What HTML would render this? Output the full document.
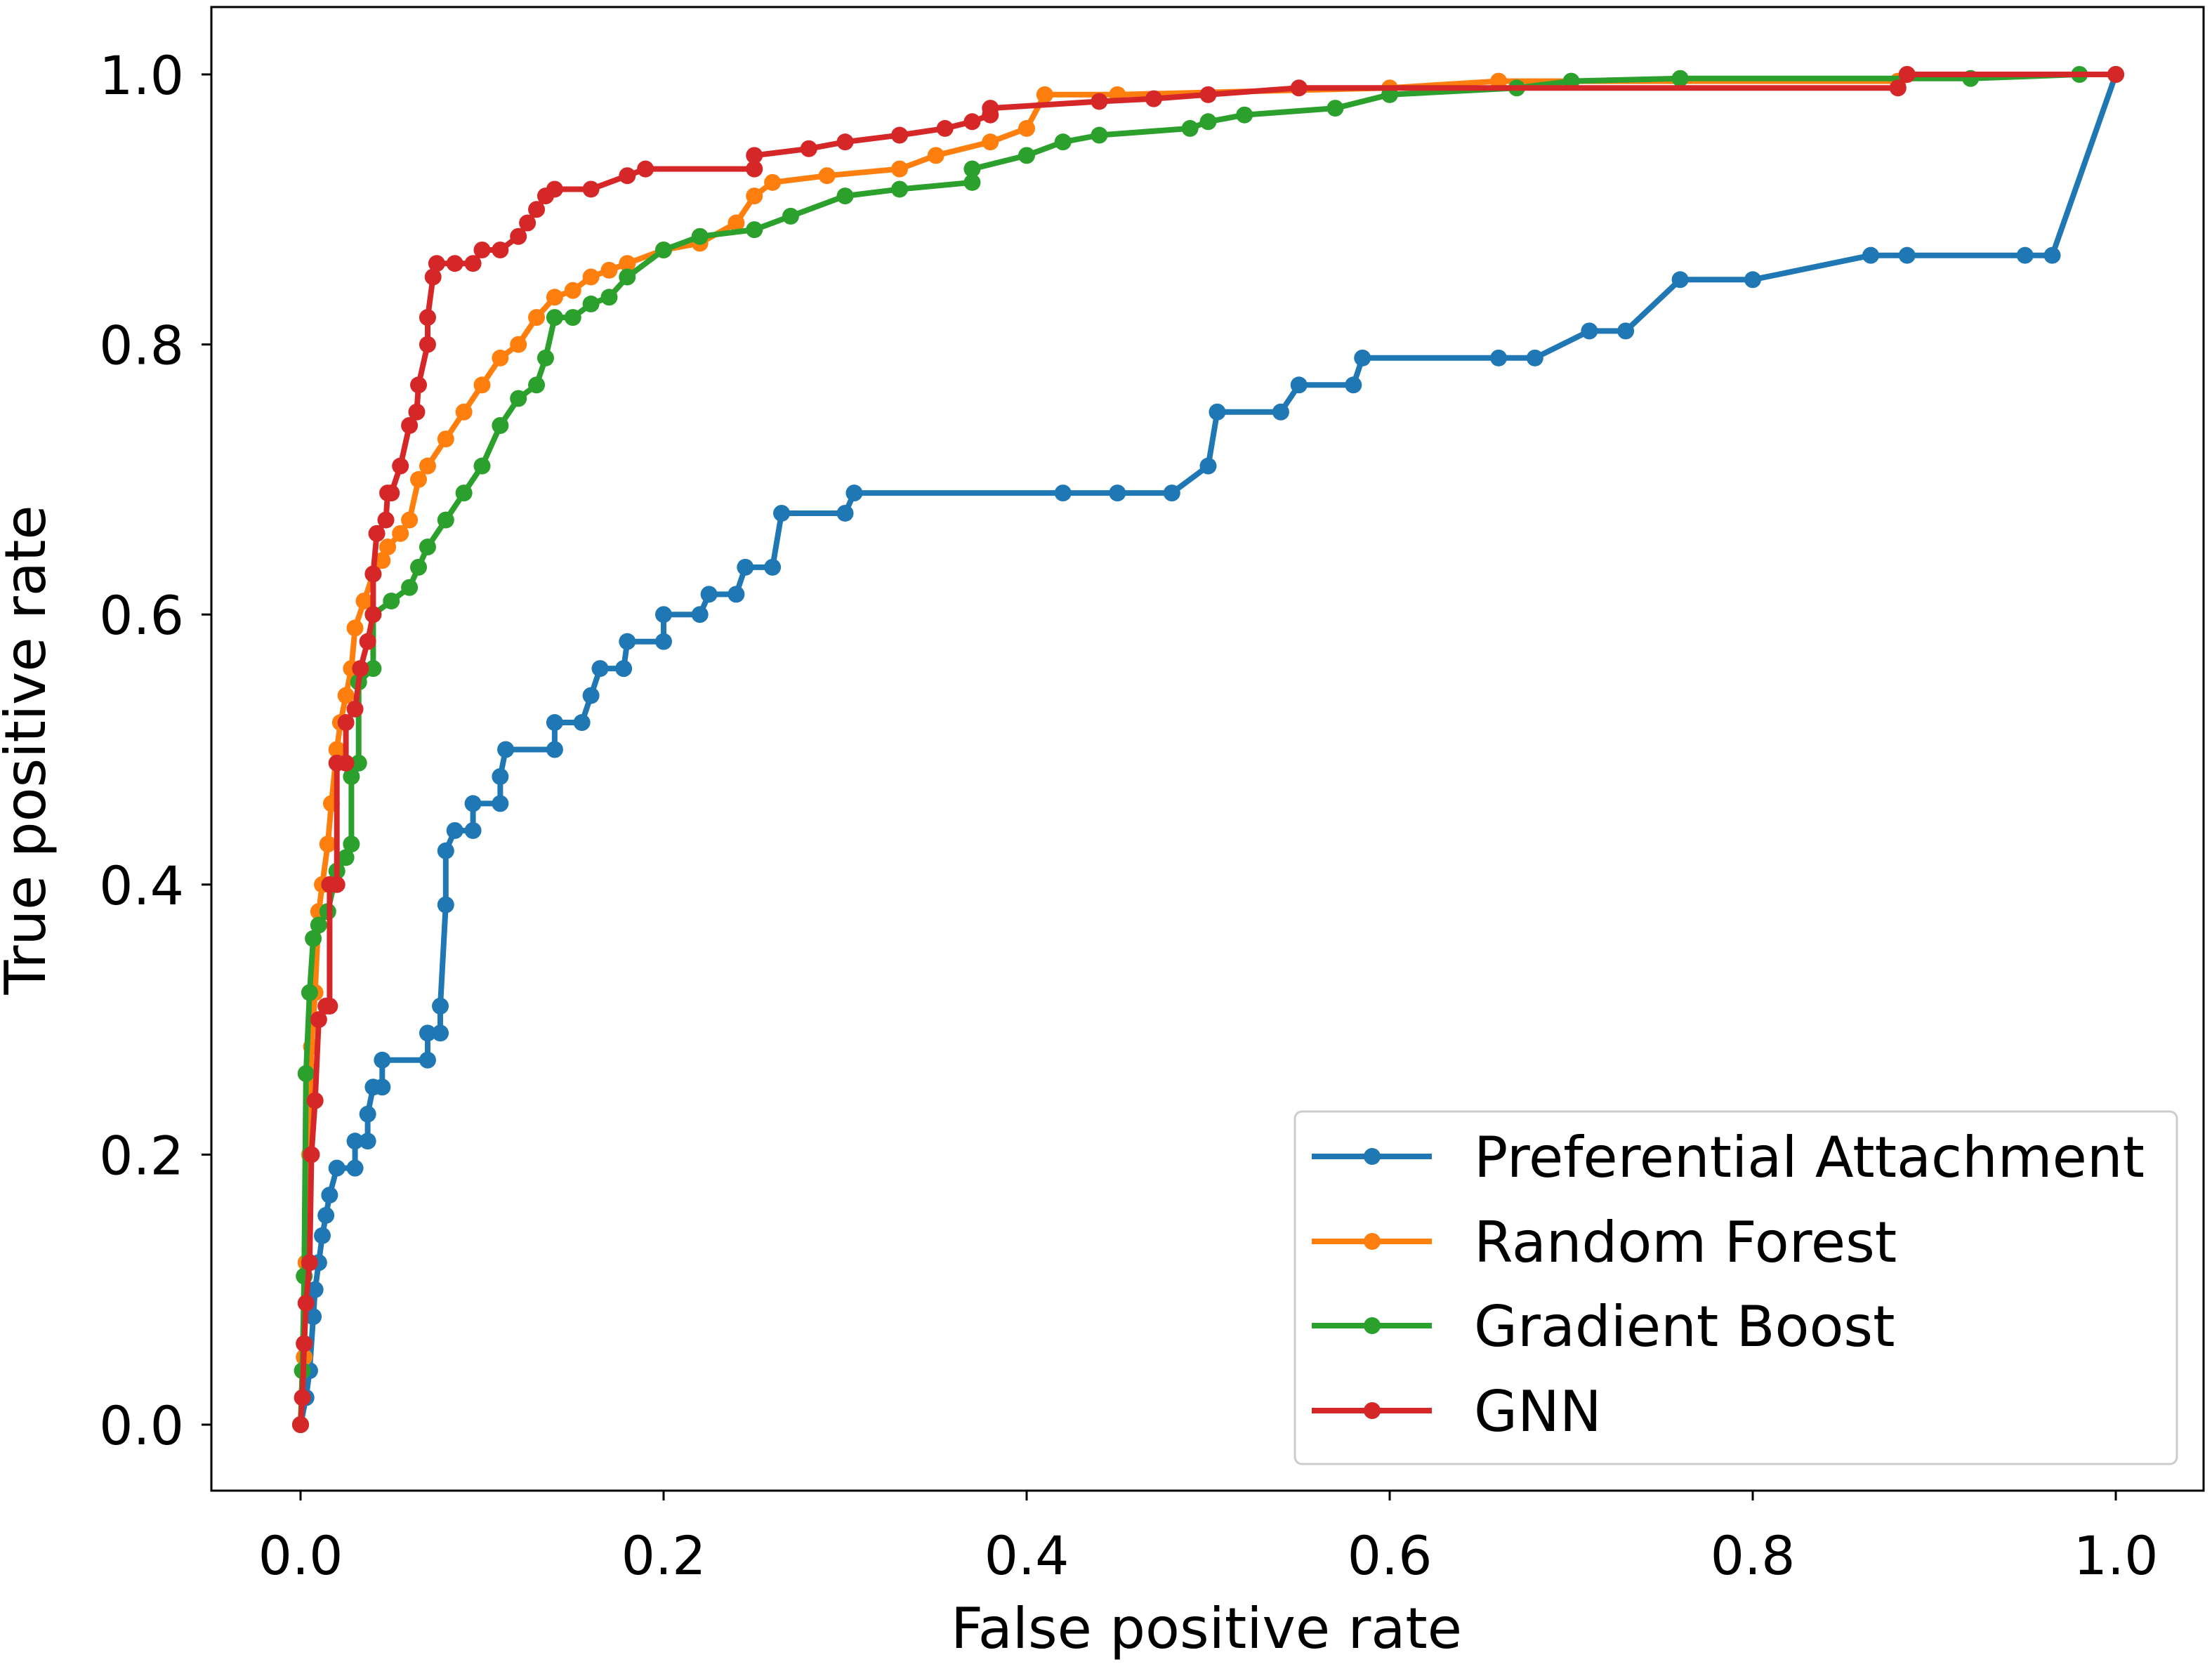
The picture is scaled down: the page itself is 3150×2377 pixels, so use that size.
<!DOCTYPE html>
<html><head><meta charset="utf-8"><style>
html,body{margin:0;padding:0;background:#fff;}
svg{display:block;font-family:"DejaVu Sans","Liberation Sans",sans-serif;}
</style></head><body>
<svg id="chart" width="3150" height="2377" viewBox="0 0 3150 2377" xmlns="http://www.w3.org/2000/svg">
<rect x="0" y="0" width="3150" height="2377" fill="#fff"/>
<g id="marks"></g>
<rect x="301" y="10" width="2837" height="2113" fill="none" stroke="#000" stroke-width="3"/>
<g id="ticks"></g>
<text x="1718" y="2347" font-size="80" text-anchor="middle">False positive rate</text>
<text transform="translate(64,1068) rotate(-90)" font-size="80" text-anchor="middle">True positive rate</text>
<g id="legend">
<rect x="1844" y="1583" width="1256" height="502" rx="10" fill="#fff" fill-opacity="0.8" stroke="#ccc" stroke-width="3"/>
</g>
</svg>
<script>
const seriesNames = ["Preferential Attachment","Random Forest","Gradient Boost","GNN"];
const seriesColors = ["#1f77b4","#ff7f0e","#2ca02c","#d62728"];
const xTicks = [0,0.2,0.4,0.6,0.8,1.0];
const yTicks = [0,0.2,0.4,0.6,0.8,1.0];
const paFpr = [0,0.003,0.005,0.007,0.008,0.01,0.012,0.014,0.016,0.02,0.03,0.03,0.037,0.037,0.04,0.045,0.045,0.07,0.07,0.077,0.077,0.08,0.08,0.085,0.095,0.095,0.11,0.11,0.113,0.14,0.14,0.155,0.16,0.165,0.178,0.18,0.2,0.2,0.22,0.225,0.24,0.245,0.26,0.265,0.3,0.305,0.42,0.45,0.48,0.5,0.505,0.54,0.55,0.58,0.585,0.66,0.68,0.71,0.73,0.76,0.8,0.865,0.885,0.95,0.965,1];
const paTpr = [0,0.02,0.04,0.08,0.1,0.12,0.14,0.155,0.17,0.19,0.19,0.21,0.21,0.23,0.25,0.25,0.27,0.27,0.29,0.29,0.31,0.385,0.425,0.44,0.44,0.46,0.46,0.48,0.5,0.5,0.52,0.52,0.54,0.56,0.56,0.58,0.58,0.6,0.6,0.615,0.615,0.635,0.635,0.675,0.675,0.69,0.69,0.69,0.69,0.71,0.75,0.75,0.77,0.77,0.79,0.79,0.79,0.81,0.81,0.848,0.848,0.866,0.866,0.866,0.866,1];
const rfFpr = [0,0.002,0.003,0.005,0.006,0.008,0.01,0.012,0.015,0.017,0.02,0.022,0.025,0.028,0.03,0.035,0.04,0.045,0.048,0.055,0.06,0.065,0.07,0.08,0.09,0.1,0.11,0.12,0.13,0.14,0.15,0.16,0.17,0.18,0.2,0.22,0.24,0.25,0.26,0.29,0.33,0.35,0.38,0.4,0.41,0.45,0.6,0.66,0.88,0.885,1];
const rfTpr = [0,0.05,0.12,0.2,0.28,0.32,0.38,0.4,0.43,0.46,0.5,0.52,0.54,0.56,0.59,0.61,0.63,0.64,0.65,0.66,0.67,0.7,0.71,0.73,0.75,0.77,0.79,0.8,0.82,0.835,0.84,0.85,0.855,0.86,0.87,0.875,0.89,0.91,0.92,0.925,0.93,0.94,0.95,0.96,0.985,0.985,0.99,0.995,0.995,1,1];
const gbFpr = [0,0.001,0.002,0.003,0.005,0.007,0.01,0.015,0.02,0.025,0.028,0.028,0.032,0.032,0.04,0.04,0.05,0.06,0.065,0.07,0.08,0.09,0.1,0.11,0.12,0.13,0.135,0.14,0.15,0.16,0.17,0.18,0.2,0.22,0.25,0.27,0.3,0.33,0.37,0.37,0.4,0.42,0.44,0.49,0.5,0.52,0.57,0.6,0.67,0.7,0.76,0.92,0.98,1];
const gbTpr = [0,0.04,0.11,0.26,0.32,0.36,0.37,0.38,0.41,0.42,0.43,0.48,0.49,0.55,0.56,0.6,0.61,0.62,0.635,0.65,0.67,0.69,0.71,0.74,0.76,0.77,0.79,0.82,0.82,0.83,0.835,0.85,0.87,0.88,0.885,0.895,0.91,0.915,0.92,0.93,0.94,0.95,0.955,0.96,0.965,0.97,0.975,0.985,0.99,0.995,0.997,0.997,1,1];
const gnnFpr = [0,0.001,0.002,0.003,0.005,0.006,0.008,0.01,0.014,0.016,0.016,0.02,0.02,0.025,0.025,0.03,0.033,0.037,0.04,0.04,0.042,0.047,0.048,0.05,0.055,0.06,0.064,0.065,0.07,0.07,0.073,0.075,0.085,0.095,0.1,0.11,0.12,0.125,0.13,0.135,0.14,0.16,0.18,0.19,0.25,0.25,0.28,0.3,0.33,0.355,0.37,0.38,0.38,0.44,0.47,0.5,0.55,0.88,0.885,1];
const gnnTpr = [0,0.02,0.06,0.09,0.12,0.2,0.24,0.3,0.31,0.31,0.4,0.4,0.49,0.49,0.52,0.53,0.56,0.58,0.6,0.63,0.66,0.67,0.69,0.69,0.71,0.74,0.75,0.77,0.8,0.82,0.85,0.86,0.86,0.86,0.87,0.87,0.88,0.89,0.9,0.91,0.915,0.915,0.925,0.93,0.93,0.94,0.945,0.95,0.955,0.96,0.965,0.97,0.975,0.98,0.982,0.985,0.99,0.99,1,1];
const allFpr = [paFpr, rfFpr, gbFpr, gnnFpr];
const allTpr = [paTpr, rfTpr, gbTpr, gnnTpr];

const NS = "http://www.w3.org/2000/svg";
const X0 = 428, X1 = 3013, Y0 = 2029, Y1 = 106;
function sx(v){ return X0 + (X1 - X0) * v; }
function sy(v){ return Y0 - (Y0 - Y1) * v; }
function mk(tag, attrs, parent){
  const e = document.createElementNS(NS, tag);
  for (const k in attrs) e.setAttribute(k, attrs[k]);
  parent.appendChild(e);
  return e;
}
const marks = document.getElementById('marks');
const keys = ["preferential-attachment","random-forest","gradient-boost","gnn"];
for (let s = 0; s < 4; s++) {
  const g = mk('g', {}, marks);
  
  
  const fx = allFpr[s], ty = allTpr[s];
  let d = '';
  for (let i = 0; i < fx.length; i++) d += (i ? 'L' : 'M') + sx(fx[i]).toFixed(1) + ' ' + sy(ty[i]).toFixed(1);
  const p = mk('path', {d: d, fill: 'none', stroke: seriesColors[s], 'stroke-width': 8, 'stroke-linejoin': 'round'}, g);
  
  
  for (let i = 0; i < fx.length; i++) {
    const c = mk('circle', {cx: sx(fx[i]), cy: sy(ty[i]), r: 12, fill: seriesColors[s]}, g);
    
    
  }
}
const ticks = document.getElementById('ticks');
xTicks.forEach(v => {
  const l = mk('line', {x1: sx(v), x2: sx(v), y1: 2123, y2: 2137, stroke: '#000', 'stroke-width': 3}, ticks);
  
  
  const t = mk('text', {x: sx(v), y: 2242, 'font-size': 76, 'text-anchor': 'middle'}, ticks);
  t.textContent = v.toFixed(1);
  
  
});
yTicks.forEach(v => {
  const l = mk('line', {x1: 287, x2: 301, y1: sy(v), y2: sy(v), stroke: '#000', 'stroke-width': 3}, ticks);
  
  
  const t = mk('text', {x: 262, y: sy(v) + 28, 'font-size': 76, 'text-anchor': 'end'}, ticks);
  t.textContent = v.toFixed(1);
  
  
});
const legend = document.getElementById('legend');
const ly = [1647, 1768, 1888, 2009];
for (let s = 0; s < 4; s++) {
  const g = mk('g', {}, legend);
  
  
  mk('line', {x1: 1868, x2: 2039, y1: ly[s], y2: ly[s], stroke: seriesColors[s], 'stroke-width': 8}, g);
  mk('circle', {cx: 1954, cy: ly[s], r: 12, fill: seriesColors[s]}, g);
  const t = mk('text', {x: 2099, y: ly[s] + 29, 'font-size': 80}, g);
  t.textContent = seriesNames[s];
}
</script>
</body></html>
